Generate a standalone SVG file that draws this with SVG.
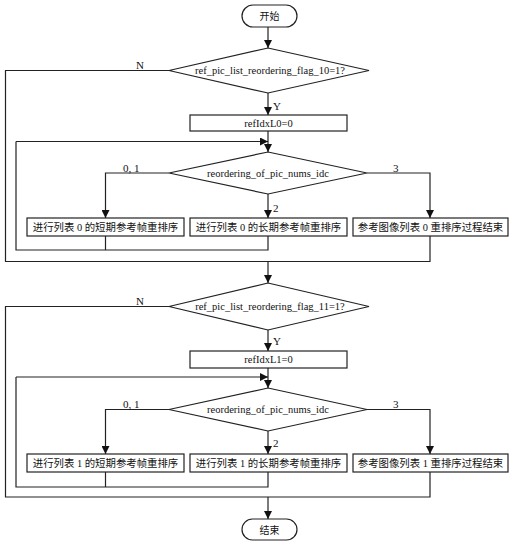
<svg xmlns="http://www.w3.org/2000/svg" width="515" height="546" viewBox="0 0 515 546">
<defs>
<marker id="ah" viewBox="0 0 10 10" refX="10" refY="5" markerWidth="8" markerHeight="8" markerUnits="userSpaceOnUse" orient="auto">
<path d="M0,0 L10,5 L0,10 Z" fill="#111"/>
</marker>
<style>
.s{fill:#fff;stroke:#222;stroke-width:1.2}
.c{fill:none;stroke:#222;stroke-width:1.2}
.a{marker-end:url(#ah)}
.t{font-family:"Liberation Serif","Noto Sans CJK SC",serif;fill:#111;text-anchor:middle}
.e{font-size:10.5px}
.z{font-size:10.4px}
.l{font-size:11px;font-family:"Liberation Serif",serif;fill:#111}
</style>
</defs>
<rect width="515" height="546" fill="#fff"/>
<g id="connectors">
<path class="c a" d="M268,27 V48"/>
<path class="c" d="M169,70.5 H5.5 V261.5 H430 V236"/>
<path class="c a" d="M268,93 V115"/>
<path class="c a" d="M268,131 V152"/>
<path class="c a" d="M169,173 H105.5 V218"/>
<path class="c a" d="M268,194 V218"/>
<path class="c a" d="M367,173 H430 V218"/>
<path class="c" d="M105.5,236 V250"/>
<path class="c" d="M268,236 V250 H16 V141.5"/>
<path class="c a" d="M16,141.5 H268"/>
<path class="c a" d="M268,261.5 V283"/>
<path class="c" d="M169,306.5 H5.5 V497 H430 V472"/>
<path class="c a" d="M268,330 V351"/>
<path class="c a" d="M268,368 V388"/>
<path class="c a" d="M169,409.5 H105.5 V454"/>
<path class="c a" d="M268,431 V454"/>
<path class="c a" d="M367,409.5 H430 V454"/>
<path class="c" d="M105.5,472 V487"/>
<path class="c" d="M268,472 V487 H16 V377"/>
<path class="c a" d="M16,377 H268"/>
<path class="c a" d="M268,497 V519"/>
<text class="l" x="136" y="69">N</text>
<text class="l" x="273" y="110">Y</text>
<text class="l" x="123" y="172">0, 1</text>
<text class="l" x="273" y="212">2</text>
<text class="l" x="393" y="172">3</text>
<text class="l" x="136" y="305">N</text>
<text class="l" x="273" y="345">Y</text>
<text class="l" x="123" y="408">0, 1</text>
<text class="l" x="273" y="447">2</text>
<text class="l" x="393" y="408">3</text>
</g>
<g id="start">
<rect class="s" x="242" y="5" width="55" height="22" rx="11"/>
<text class="t" x="269.5" y="20" font-size="10">开始</text>
</g>
<g id="cond0">
<polygon class="s" points="268,48 369,70.5 268,93 169,70.5"/>
<text class="t e" x="270" y="74">ref_pic_list_reordering_flag_10=1?</text>
</g>
<g id="init0">
<rect class="s" x="190" y="115" width="157" height="16"/>
<text class="t e" x="268.5" y="127">refIdxL0=0</text>
</g>
<g id="idc0">
<polygon class="s" points="268,152 367,173 268,194 169,173"/>
<text class="t e" x="268" y="177">reordering_of_pic_nums_idc</text>
</g>
<g id="short0">
<rect class="s" x="27" y="218" width="157" height="18"/>
<text class="t z" x="105.5" y="231">进行列表 0 的短期参考帧重排序</text>
</g>
<g id="long0">
<rect class="s" x="190" y="218" width="157" height="18"/>
<text class="t z" x="268.5" y="231">进行列表 0 的长期参考帧重排序</text>
</g>
<g id="end0">
<rect class="s" x="353" y="218" width="155" height="18"/>
<text class="t z" x="430.5" y="231">参考图像列表 0 重排序过程结束</text>
</g>
<g id="cond1">
<polygon class="s" points="268,283 369,306.5 268,330 169,306.5"/>
<text class="t e" x="270" y="310">ref_pic_list_reordering_flag_11=1?</text>
</g>
<g id="init1">
<rect class="s" x="190" y="351" width="157" height="17"/>
<text class="t e" x="268.5" y="363">refIdxL1=0</text>
</g>
<g id="idc1">
<polygon class="s" points="268,388 367,409.5 268,431 169,409.5"/>
<text class="t e" x="268" y="413">reordering_of_pic_nums_idc</text>
</g>
<g id="short1">
<rect class="s" x="27" y="454" width="157" height="18"/>
<text class="t z" x="105.5" y="467">进行列表 1 的短期参考帧重排序</text>
</g>
<g id="long1">
<rect class="s" x="190" y="454" width="157" height="18"/>
<text class="t z" x="268.5" y="467">进行列表 1 的长期参考帧重排序</text>
</g>
<g id="end1">
<rect class="s" x="353" y="454" width="155" height="18"/>
<text class="t z" x="430.5" y="467">参考图像列表 1 重排序过程结束</text>
</g>
<g id="finish">
<rect class="s" x="242" y="519" width="55" height="21" rx="10.5"/>
<text class="t" x="269.5" y="533.5" font-size="10">结束</text>
</g>
</svg>
